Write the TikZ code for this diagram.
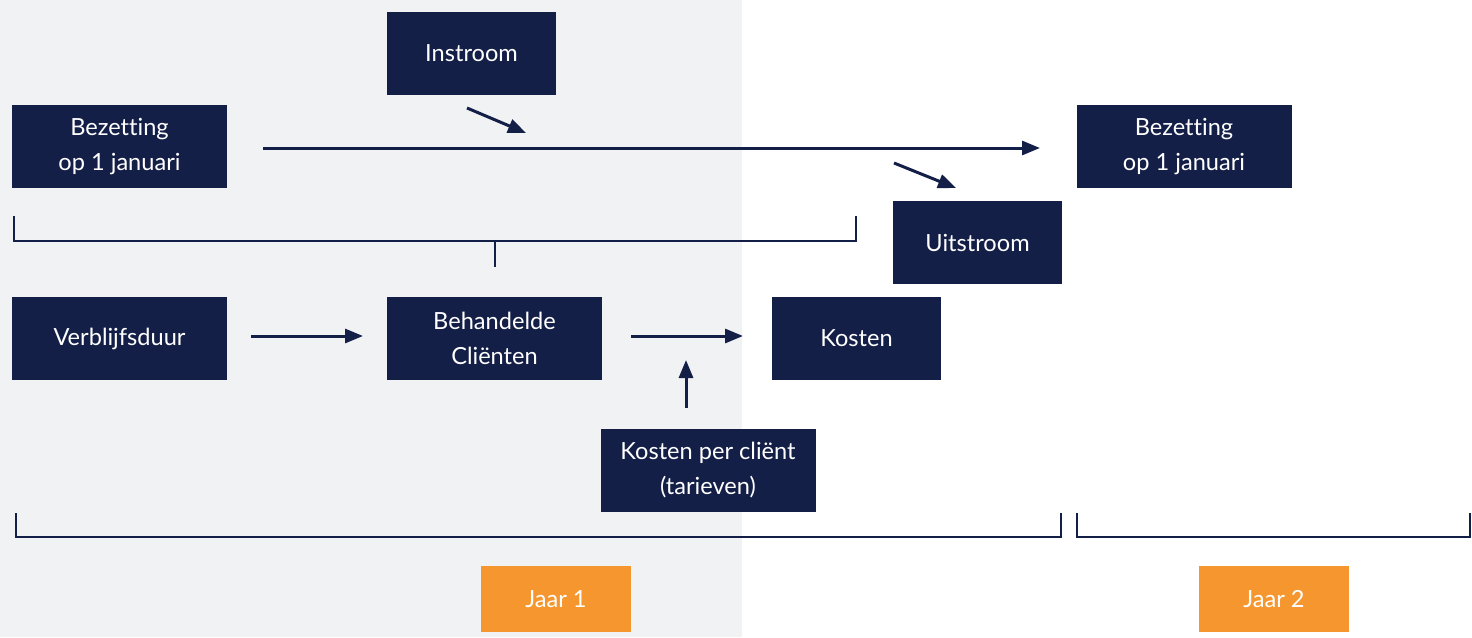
\documentclass[tikz,border=0pt]{standalone}
\usepackage{fontspec}
\setmainfont{Lato}[Ligatures=NoCommon]
\usetikzlibrary{arrows.meta}
\definecolor{navy}{HTML}{141F48}
\definecolor{bggrey}{HTML}{F1F2F4}
\definecolor{orng}{HTML}{F6962F}
\begin{document}
\begin{tikzpicture}[x=0.5pt,y=-0.5pt,
  box/.style={fill=navy,text=white,align=center,inner sep=0pt,minimum height=41.5pt,
    font=\fontsize{11.8}{17.5}\selectfont},
  wide/.style={box,minimum width=107.5pt},
  narrow/.style={box,minimum width=84.5pt},
  jaar/.style={fill=orng,text=white,inner sep=0pt,minimum width=75pt,minimum height=33pt,
    font=\fontsize{11.8}{17.5}\selectfont},
  arr/.style={draw=navy,line width=1.5pt,-{Triangle[length=9pt,width=7pt]}},
  brk/.style={draw=navy,line width=1.3pt}]
\useasboundingbox (0,0) rectangle (1472,637);
\fill[bggrey] (0,0) rectangle (742,637);
% boxes
\node[narrow] (inst) at (471.5,53.5) {Instroom};
\node[wide] (bez1) at (119.5,146.5) {Bezetting\\op 1 januari};
\node[wide] (bez2) at (1184,146.5) {Bezetting\\op 1 januari};
\node[narrow] (uit) at (977.5,242.5) {Uitstroom};
\node[wide] (verb) at (119.5,338.5) {Verblijfsduur};
\node[wide] (beh) at (494.5,338.5) {Behandelde\\Cliënten};
\node[narrow] (kost) at (856.5,338.5) {Kosten};
\node[wide] (kpc) at (708,470.5) {Kosten per cliënt\\(tarieven)};
\node[jaar] (j1) at (556,599) {Jaar 1};
\node[jaar] (j2) at (1274,599) {Jaar 2};
% arrow end points
\coordinate (a1s) at (467,108); \coordinate (a1e) at (526,133);
\coordinate (a2s) at (263,148); \coordinate (a2e) at (1040,148);
\coordinate (a3s) at (894,163); \coordinate (a3e) at (956,188);
\coordinate (a4s) at (251,336); \coordinate (a4e) at (363,336);
\coordinate (a5s) at (631,336); \coordinate (a5e) at (743,336);
\coordinate (a6s) at (686,408); \coordinate (a6e) at (686,360);
\draw[arr] (a1s) -- (a1e);
\draw[arr] (a2s) -- (a2e);
\draw[arr] (a3s) -- (a3e);
\draw[arr] (a4s) -- (a4e);
\draw[arr] (a5s) -- (a5e);
\draw[arr] (a6s) -- (a6e);
% brackets
\coordinate (b1a) at (14,216); \coordinate (b1b) at (14,241);
\coordinate (b1c) at (856,241); \coordinate (b1d) at (856,216);
\coordinate (b1m) at (495,241); \coordinate (b1t) at (495,267);
\draw[brk] (b1a) -- (b1b) -- (b1c) -- (b1d);
\draw[brk] (b1m) -- (b1t);
\coordinate (b2a) at (16,513); \coordinate (b2b) at (16,537);
\coordinate (b2c) at (1061,537); \coordinate (b2d) at (1061,513);
\draw[brk] (b2a) -- (b2b) -- (b2c) -- (b2d);
\coordinate (b3a) at (1077,513); \coordinate (b3b) at (1077,537);
\coordinate (b3c) at (1470,537); \coordinate (b3d) at (1470,513);
\draw[brk] (b3a) -- (b3b) -- (b3c) -- (b3d);
\end{tikzpicture}
\end{document}
